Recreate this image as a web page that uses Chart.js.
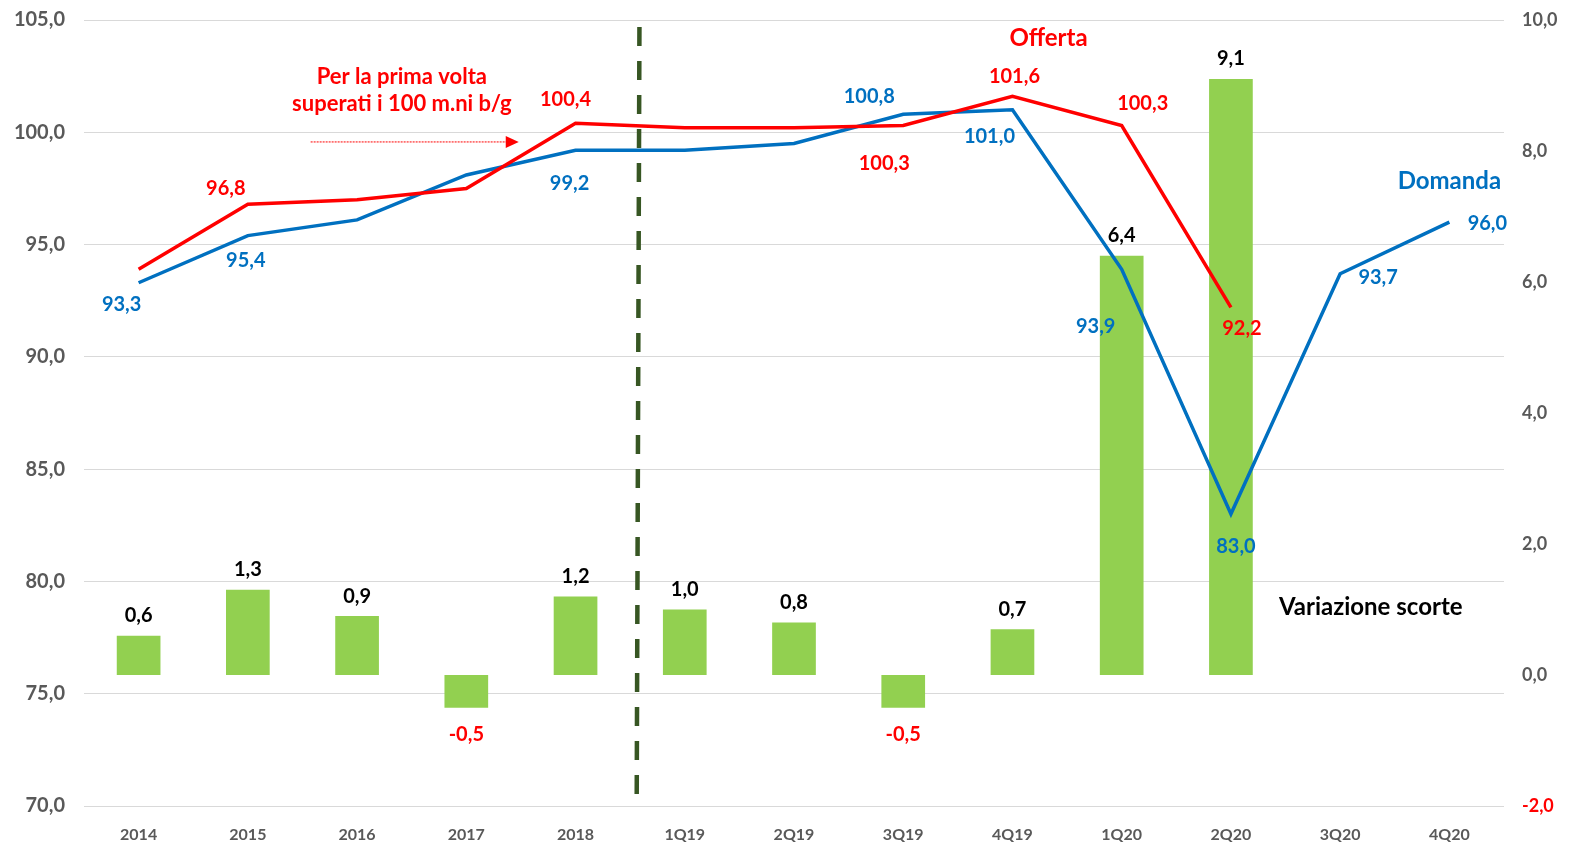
<!DOCTYPE html>
<html>
<head>
<meta charset="utf-8">
<script src="https://cdn.jsdelivr.net/npm/chart.js@4"></script>
<style>
  html, body { margin: 0; padding: 0; background: #fff; }
  #wrap { width: 1571px; height: 846px; position: relative; }
</style>
</head>
<body>
<div id="wrap"><canvas id="chart"></canvas></div>
<script>
// Data
const labels = ['2014', '2015', '2016', '2017', '2018', '1Q19', '2Q19', '3Q19', '4Q19', '1Q20', '2Q20', '3Q20', '4Q20'];
const domanda = [93.3, 95.4, 96.1, 98.1, 99.2, 99.2, 99.5, 100.8, 101.0, 93.9, 83.0, 93.7, 96.0];
const offerta = [93.9, 96.8, 97.0, 97.5, 100.4, 100.2, 100.2, 100.3, 101.6, 100.3, 92.2, null, null];
const scorte = [0.6, 1.3, 0.9, -0.5, 1.2, 1.0, 0.8, -0.5, 0.7, 6.4, 9.1, null, null];

const RED = '#ff0000';
const BLUE = '#0070c0';
const GREEN = '#92d050';
const GREY = '#595959';
const FONT = 'Lato, "Open Sans", sans-serif';

const fmt = v => v.toFixed(1).replace('.', ',');

// label offsets (dx, dy) from the point, null = no label
const domandaLabelPos = [[-17, 22], [-2, 25], null, null, [-6, 33], null, null, [-34, -18], [-23, 27], [-26, 57], [5, 32], [38, 4], [38, 1]];
const offertaLabelPos = [null, [-22, -16], null, null, [-10, -24], null, null, [-19, 38], [2, -20], [21, -22], [11, 21], null, null];

// Data labels plugin
const valueLabels = {
  id: 'valueLabels',
  afterDatasetsDraw(chart) {
    const ctx = chart.ctx;
    ctx.save();
    ctx.font = 'bold 20px ' + FONT;
    ctx.textAlign = 'center';
    ctx.textBaseline = 'middle';

    const drawLine = (dsIndex, pos, color) => {
      const meta = chart.getDatasetMeta(dsIndex);
      const data = chart.data.datasets[dsIndex].data;
      meta.data.forEach((pt, i) => {
        if (data[i] == null || !pos[i]) return;
        ctx.fillStyle = color;
        ctx.fillText(fmt(data[i]), pt.x + pos[i][0], pt.y + pos[i][1]);
      });
    };

    // bars
    const barMeta = chart.getDatasetMeta(0);
    barMeta.data.forEach((bar, i) => {
      const v = scorte[i];
      if (v == null) return;
      if (v >= 0) {
        ctx.fillStyle = '#000';
        ctx.fillText(fmt(v), bar.x, bar.y - 20);
      } else {
        ctx.fillStyle = RED;
        ctx.fillText(fmt(v), bar.x, bar.y + 27);
      }
    });

    drawLine(1, offertaLabelPos, RED);
    drawLine(2, domandaLabelPos, BLUE);
    ctx.restore();
  }
};

// Annotations: dashed separator, texts, arrow
const annotations = {
  id: 'annotations',
  afterDatasetsDraw(chart) {
    const ctx = chart.ctx;
    const x = chart.scales.x;
    const y = chart.scales.y;
    ctx.save();

    // dashed separator between yearly and quarterly data
    ctx.strokeStyle = '#375623';
    ctx.lineWidth = 4.5;
    ctx.setLineDash([19, 15]);
    ctx.beginPath();
    ctx.moveTo(x.getPixelForValue(4.585), y.getPixelForValue(104.69));
    ctx.lineTo(x.getPixelForValue(4.56), y.getPixelForValue(70.4));
    ctx.stroke();
    ctx.setLineDash([]);

    ctx.textAlign = 'center';
    ctx.textBaseline = 'middle';

    ctx.fillStyle = RED;
    ctx.font = 'bold 22px ' + FONT;
    ctx.fillText('Per la prima volta', x.getPixelForValue(2.41), y.getPixelForValue(102.46));
    ctx.fillText('superati i 100 m.ni b/g', x.getPixelForValue(2.41), y.getPixelForValue(101.26));
    ctx.font = 'bold 24px ' + FONT;
    ctx.fillText('Offerta', x.getPixelForValue(8.33), y.getPixelForValue(104.2));

    ctx.fillStyle = BLUE;
    ctx.fillText('Domanda', x.getPixelForValue(12.0), y.getPixelForValue(97.83));

    ctx.fillStyle = '#000';
    ctx.fillText('Variazione scorte', x.getPixelForValue(11.28), y.getPixelForValue(78.87));

    // dotted arrow
    const ay = y.getPixelForValue(99.57);
    const ax1 = x.getPixelForValue(1.575);
    const ax2 = x.getPixelForValue(3.48);
    ctx.strokeStyle = RED;
    ctx.lineWidth = 1;
    ctx.setLineDash([2, 1]);
    ctx.beginPath();
    ctx.moveTo(ax1, ay);
    ctx.lineTo(ax2 - 12, ay);
    ctx.stroke();
    ctx.setLineDash([]);
    ctx.fillStyle = RED;
    ctx.beginPath();
    ctx.moveTo(ax2, ay);
    ctx.lineTo(ax2 - 13, ay - 6);
    ctx.lineTo(ax2 - 13, ay + 6);
    ctx.closePath();
    ctx.fill();

    ctx.restore();
  }
};

const ctx = document.getElementById('chart').getContext('2d');
new Chart(ctx, {
  data: {
    labels: labels,
    datasets: [
      {
        type: 'bar',
        label: 'Variazione scorte',
        data: scorte,
        backgroundColor: GREEN,
        yAxisID: 'y1',
        barPercentage: 0.4,
        categoryPercentage: 1.0,
        order: 3,
      },
      {
        type: 'line',
        label: 'Offerta',
        data: offerta,
        borderColor: RED,
        borderWidth: 3.5,
        pointRadius: 0,
        tension: 0,
        fill: false,
        yAxisID: 'y',
        order: 1,
      },
      {
        type: 'line',
        label: 'Domanda',
        data: domanda,
        borderColor: BLUE,
        borderWidth: 3.5,
        pointRadius: 0,
        tension: 0,
        fill: false,
        yAxisID: 'y',
        order: 2,
      },
    ],
  },
  options: {
    responsive: true,
    maintainAspectRatio: false,
    animation: false,
    layout: { padding: { top: 20, left: 0, right: 0, bottom: 0 } },
    plugins: {
      legend: { display: false },
      tooltip: { enabled: false },
    },
    scales: {
      x: {
        offset: true,
        grid: { display: false, drawTicks: false },
        border: { display: false },
        ticks: {
          color: GREY,
          font: { family: FONT, size: 16, weight: 'bold' },
          padding: 19,
          maxRotation: 0,
        },
        afterFit(scale) { scale.height = 40; },
      },
      y: {
        position: 'left',
        min: 70,
        max: 105,
        ticks: {
          stepSize: 5,
          color: GREY,
          font: { family: FONT, size: 20, weight: 'bold' },
          padding: 19,
          callback: v => fmt(v),
        },
        grid: { color: '#d9d9d9', lineWidth: 1, drawTicks: false },
        border: { display: false },
        afterFit(scale) {
          scale.width = 84;
          scale.paddingTop = 0;
          scale.paddingBottom = 0;
        },
      },
      y1: {
        position: 'right',
        min: -2,
        max: 10,
        ticks: {
          stepSize: 2,
          color: c => (c.tick && c.tick.value < 0 ? RED : GREY),
          font: { family: FONT, size: 18, weight: 'bold' },
          padding: 18,
          callback: v => fmt(v),
        },
        grid: { display: false, drawTicks: false },
        border: { display: false },
        afterFit(scale) {
          scale.width = 67;
          scale.paddingTop = 0;
          scale.paddingBottom = 0;
        },
      },
    },
  },
  plugins: [valueLabels, annotations],
});
</script>
</body>
</html>
